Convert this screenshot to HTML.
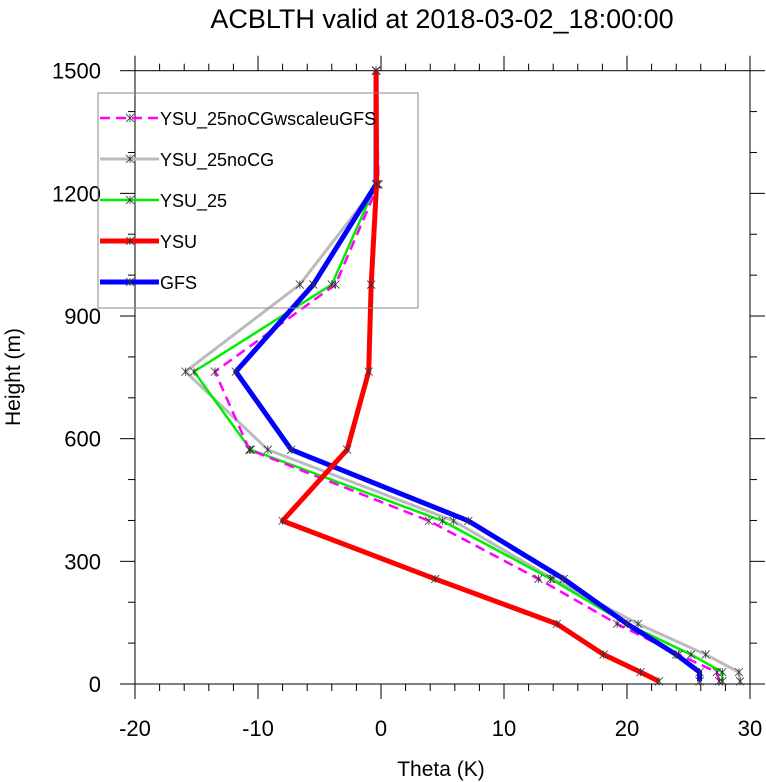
<!DOCTYPE html>
<html><head><meta charset="utf-8"><style>
body{margin:0;background:#fff;}
svg{display:block;font-family:"Liberation Sans",sans-serif;}
</style></head><body>
<svg id="c" width="766" height="782" viewBox="0 0 766 782" xmlns="http://www.w3.org/2000/svg">
<text x="442" y="28" font-size="27" text-anchor="middle">ACBLTH valid at 2018-03-02_18:00:00</text>
<text x="441" y="776" font-size="21" text-anchor="middle">Theta (K)</text>
<text transform="translate(20,377) rotate(-90)" font-size="21" text-anchor="middle">Height (m)</text>
<g id="axes"></g>
<g id="series"></g>
<g id="legend"></g>
</svg>
<script>
const heights=[6.5,29,72,147,257,399,573,764,977,1222,1500];
const seriesNames=["YSU_25noCGwscaleuGFS","YSU_25noCG","YSU_25","YSU","GFS"];
const magentaVals=[27.5,27.3,24.2,19.2,12.8,3.9,-10.7,-13.5,-3.7,-0.2,-0.4];
const grayVals=[29.2,29.1,26.4,20.9,14.0,5.9,-9.2,-15.9,-6.6,-0.3,-0.4];
const greenVals=[27.75,27.75,25.2,20.0,13.8,5.0,-10.6,-15.2,-4.0,-0.4,-0.4];
const redVals=[22.6,21.1,18.1,14.3,4.4,-8.0,-2.75,-1.0,-0.8,-0.36,-0.4];
const blueVals=[25.9,25.9,24.0,20.0,14.85,7.1,-7.3,-11.8,-5.5,-0.4,-0.4];
const xTicks=[-20,-10,0,10,20,30];
const yTicks=[0,300,600,900,1200,1500];

const L=135,R=750,T=70.7,B=684;
const X=v=>L+(v+20)/50*(R-L);
const Y=h=>B-h/1500*(B-T);
const NS="http://www.w3.org/2000/svg";
function mk(tag,attrs,parent){const e=document.createElementNS(NS,tag);for(const k in attrs)e.setAttribute(k,attrs[k]);parent.appendChild(e);return e;}
const ax=document.getElementById('axes');
const fr=mk('rect',{x:L,y:T,width:R-L,height:B-T,fill:'none',stroke:'#000','stroke-width':1},ax);


for(let v=-20;v<=30;v+=2){const maj=v%10===0;const len=maj?15:7;
 mk('line',{x1:X(v),x2:X(v),y1:B,y2:B+len,stroke:'#000'},ax);
 mk('line',{x1:X(v),x2:X(v),y1:T,y2:T-len,stroke:'#000'},ax);}
for(let h=0;h<=1500;h+=100){const maj=h%300===0;const len=maj?15:7;
 mk('line',{x1:L,x2:L-len,y1:Y(h),y2:Y(h),stroke:'#000'},ax);
 mk('line',{x1:R,x2:R+len,y1:Y(h),y2:Y(h),stroke:'#000'},ax);}
xTicks.forEach(v=>{const t=mk('text',{x:X(v),y:736,'font-size':22,'text-anchor':'middle'},ax);t.textContent=v;
 
 });
yTicks.forEach(h=>{const t=mk('text',{x:101,y:Y(h)+8,'font-size':22,'text-anchor':'end'},ax);t.textContent=h;
 
 });
const styles=[
 {vals:magentaVals,color:'#ff00ff',w:2.5,dash:'10,6'},
 {vals:grayVals,color:'#bbbbbb',w:3,dash:''},
 {vals:greenVals,color:'#00ee00',w:2.5,dash:''},
 {vals:redVals,color:'#ff0000',w:5,dash:''},
 {vals:blueVals,color:'#0000ff',w:5,dash:''}];
const sg=document.getElementById('series');
function star(x,y,g){const s=4;
 mk('line',{x1:x-s,y1:y-s,x2:x+s,y2:y+s,stroke:'#333','stroke-width':0.8},g);
 mk('line',{x1:x-s,y1:y+s,x2:x+s,y2:y-s,stroke:'#333','stroke-width':0.8},g);
 mk('line',{x1:x,y1:y-s,x2:x,y2:y+s,stroke:'#333','stroke-width':0.8},g);}
[1,2,0,4,3].forEach(i=>{const st=styles[i];
 const g=mk('g',{},sg);
 
 
 const pts=st.vals.map((v,j)=>X(v)+','+Y(heights[j])).join(' ');
 mk('polyline',{points:pts,fill:'none',stroke:st.color,'stroke-width':st.w,'stroke-dasharray':st.dash,'stroke-linejoin':'round'},g);
 st.vals.forEach((v,j)=>star(X(v),Y(heights[j]),g));});
const lg=document.getElementById('legend');
const box=mk('rect',{x:98,y:93,width:320,height:215,fill:'none',stroke:'#888','stroke-width':1},lg);


seriesNames.forEach((n,i)=>{const st=styles[i];const y=118+i*41;
 const g=mk('g',{},lg);
 
 
 mk('line',{x1:100,x2:159,y1:y,y2:y,stroke:st.color,'stroke-width':st.w,'stroke-dasharray':st.dash},g);
 star(130,y,g);
 const t=mk('text',{x:160,y:y+7,'font-size':18},g);t.textContent=n;});
</script>
</body></html>
